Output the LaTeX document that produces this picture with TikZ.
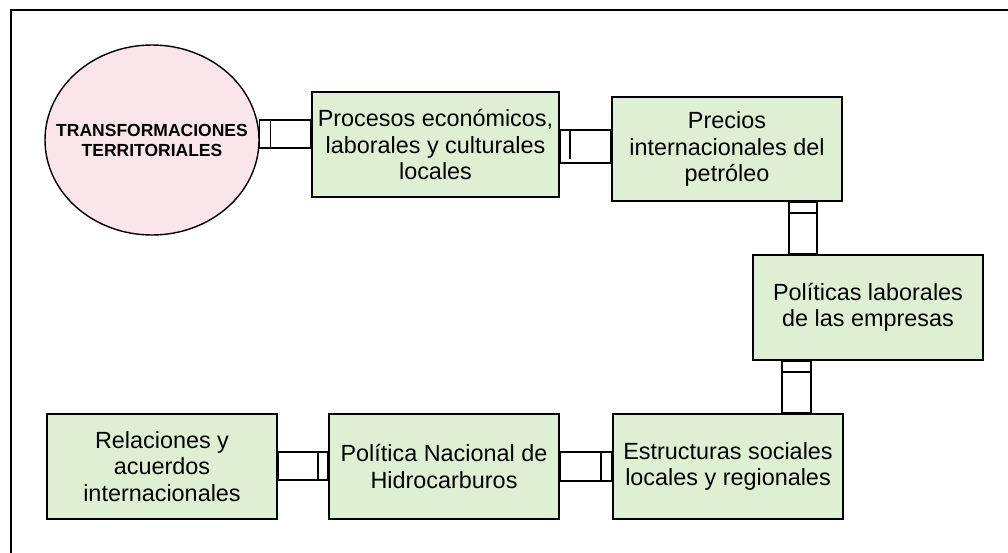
\documentclass[tikz,border=0pt]{standalone}
\usepackage{fontspec}
\setmainfont{Liberation Sans}
\usetikzlibrary{calc,shapes.geometric}
\definecolor{boxgreen}{HTML}{DEEFD4}
\definecolor{circpink}{HTML}{F9E5EA}
\tikzset{
  box/.style={draw=black, line width=1.6pt, fill=boxgreen, rectangle, inner sep=0pt,
    align=center, font=\fontsize{23.4}{26.5}\selectfont},
  band/.style={draw=black, line width=1.5pt, fill=white},
  bar/.style={draw=black, line width=1.5pt},
  frame/.style={draw=black, line width=2pt}
}
\begin{document}
\begin{tikzpicture}[x=1pt,y=-1pt]
\useasboundingbox (0,0) rectangle (1008,552);
\draw[frame] (1010,10) -- (11,10) -- (11,554);

\node[draw=black, line width=1.4pt, fill=circpink, ellipse, minimum width=214pt, minimum height=190pt,
  inner sep=0pt] (c) at (152,140) {};
\node[align=center, inner sep=0pt, font=\fontsize{17.5}{20}\selectfont\bfseries] (ct) at (c.center)
  {TRANSFORMACIONES\\TERRITORIALES};

\node[box, minimum width=247pt, minimum height=105pt] (b1) at (435.5,144.5)
  {Procesos económicos,\\laborales y culturales\\locales};
\node[box, minimum width=230pt, minimum height=104pt] (b2) at (727,149)
  {Precios\\internacionales del\\petróleo};
\node[box, minimum width=230pt, minimum height=105pt] (b3) at (868,307.5)
  {Políticas laborales\\de las empresas};
\node[box, minimum width=230pt, minimum height=105pt] (b4) at (728,466.5)
  {Estructuras sociales\\locales y regionales};
\node[box, minimum width=230pt, minimum height=105pt] (b5) at (444,466.5)
  {Política Nacional de\\Hidrocarburos};
\node[box, minimum width=230pt, minimum height=105pt] (b6) at (162,466.5)
  {Relaciones y\\acuerdos\\internacionales};

% circle -> b1
\draw[band] ($(c.east)+(0,-20)$) rectangle ($(b1.west)+(0,3.5)$);
\draw[bar] ($(c.east)+(11,-20)$) -- ($(c.east)+(11,8)$);
% b1 -> b2
\draw[band] ($(b1.east)+(0,-14.5)$) rectangle ($(b2.west)+(0,14)$);
\draw[bar] ($(b1.east)+(10,-14.5)$) -- ($(b1.east)+(10,14)$);
% b2 -> b3
\coordinate (v1a) at ($(b2.south)+(62,0)$);
\coordinate (v1b) at ($(b2.south)+(90,0)$);
\draw[band] (v1a) rectangle (v1b |- b3.north);
\draw[bar] ($(v1a)+(0,11)$) -- ($(v1b)+(0,11)$);
% b3 -> b4
\coordinate (v2a) at ($(b3.south west)+(30,0)$);
\coordinate (v2b) at ($(b3.south west)+(59,0)$);
\draw[band] (v2a) rectangle (v2b |- b4.north);
\draw[bar] ($(v2a)+(0,11)$) -- ($(v2b)+(0,11)$);
% b4 -> b5
\draw[band] ($(b4.west)+(0,-14.5)$) rectangle ($(b5.east)+(0,14.5)$);
\draw[bar] ($(b4.west)+(-11,-14.5)$) -- ($(b4.west)+(-11,14.5)$);
% b5 -> b6
\draw[band] ($(b5.west)+(0,-14.5)$) rectangle ($(b6.east)+(0,13.5)$);
\draw[bar] ($(b5.west)+(-10,-14.5)$) -- ($(b5.west)+(-10,13.5)$);
\end{tikzpicture}
\end{document}
